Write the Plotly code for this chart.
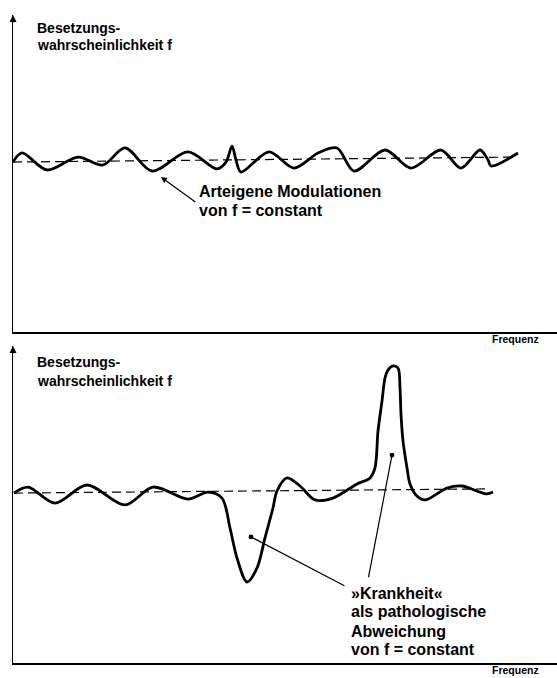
import plotly.graph_objects as go

# ---------------- data (frequency in arbitrary units 0..100, f relative to constant = 1) -------------
freq_top = [0.00, 1.65, 6.25, 11.95, 16.54, 20.59, 25.55, 32.17, 37.50, 39.15, 40.26, 40.99, 41.91,
            47.06, 51.65, 56.07, 59.56, 62.68, 68.38, 73.16, 78.68, 82.35, 85.85, 87.32, 87.87, 92.83]
f_top = [0.988, 1.041, 0.942, 1.017, 0.971, 1.070, 0.936, 1.047, 0.948, 0.988, 1.081, 1.000, 0.930,
         1.047, 0.953, 1.041, 1.070, 0.936, 1.058, 0.953, 1.058, 0.953, 1.058, 1.000, 0.965, 1.041]

freq_bottom = [0.18, 2.76, 7.72, 13.60, 20.59, 25.74, 32.17, 35.85, 38.42, 39.89, 41.18, 43.01, 44.85,
               46.32, 47.79, 48.53, 50.37, 52.76, 55.51, 58.82, 63.24, 65.63, 66.54, 67.10, 67.83,
               68.38, 68.93, 69.85, 70.77, 71.14, 71.32, 71.69, 72.43, 72.98, 74.26, 75.74, 79.78,
               82.54, 85.29, 87.13, 88.24]
f_bottom = [0.988, 1.023, 0.930, 1.035, 0.919, 1.023, 0.953, 0.994, 0.959, 0.785, 0.610, 0.471, 0.552,
            0.727, 0.901, 1.000, 1.076, 1.029, 0.948, 0.959, 1.041, 1.076, 1.134, 1.349, 1.523,
            1.657, 1.703, 1.727, 1.715, 1.599, 1.448, 1.291, 1.134, 1.041, 0.971, 0.948, 1.017,
            1.029, 1.000, 0.983, 0.994]

const_top_x = [0.0, 92.3]
const_top_f = [0.988, 1.017]
const_bottom_x = [0.18, 87.1]
const_bottom_f = [0.988, 1.012]

y_label_lines = ["Besetzungs-", "wahrscheinlichkeit f"]
x_label = "Frequenz"
top_note_lines = ["Arteigene Modulationen", "von f = constant"]
bottom_note_lines = ["»Krankheit«", "als pathologische", "Abweichung", "von f = constant"]

F_MAX = 1.843
X_MAX = 100.0

# ---------------- figure -------------
W, H = 557, 678
FONT = "Liberation Sans, Arial, Helvetica, sans-serif"

fig = go.Figure()

curve_style = dict(color="black", width=2.8, shape="spline", smoothing=0.9)
dash_style = dict(color="black", width=1.2, dash="9px,5px")

fig.add_trace(go.Scatter(x=const_top_x, y=const_top_f, mode="lines", line=dash_style,
                         xaxis="x", yaxis="y", hoverinfo="skip"))
fig.add_trace(go.Scatter(x=freq_top, y=f_top, mode="lines", line=curve_style,
                         xaxis="x", yaxis="y"))
fig.add_trace(go.Scatter(x=const_bottom_x, y=const_bottom_f, mode="lines", line=dash_style,
                         xaxis="x2", yaxis="y2", hoverinfo="skip"))
fig.add_trace(go.Scatter(x=freq_bottom, y=f_bottom, mode="lines", line=curve_style,
                         xaxis="x2", yaxis="y2"))

def px_y(py):
    return 1 - py / H

axis_common = dict(showgrid=False, zeroline=False, showticklabels=False, ticks="",
                   showline=True, linecolor="black", linewidth=1.5, fixedrange=True)

fig.update_layout(
    width=W, height=H,
    margin=dict(l=0, r=0, t=0, b=0),
    paper_bgcolor="white", plot_bgcolor="white",
    showlegend=False,
    xaxis=dict(domain=[13 / W, 1.0], range=[0, X_MAX], anchor="y", **axis_common),
    yaxis=dict(domain=[px_y(332), px_y(15)], range=[0, F_MAX], anchor="x", **axis_common),
    xaxis2=dict(domain=[13 / W, 1.0], range=[0, X_MAX], anchor="y2", **axis_common),
    yaxis2=dict(domain=[px_y(663), px_y(346)], range=[0, F_MAX], anchor="x2", **axis_common),
)

ann = []
# y-axis arrow tips
for xr, yr in (("x", "y"), ("x2", "y2")):
    ann.append(dict(x=0, y=F_MAX, xref=xr, yref=yr, text="", showarrow=True,
                    ax=0, ay=9, arrowhead=2, arrowsize=1, arrowwidth=1.4, arrowcolor="black"))

# y-axis labels
label_pos = {"y": [1.767, 1.669], "y2": [1.750, 1.640]}
for xr, yr in (("x", "y"), ("x2", "y2")):
    for line, yy in zip(y_label_lines, label_pos[yr]):
        ann.append(dict(x=4.0, y=yy, xref=xr, yref=yr, text="<b>%s</b>" % line, showarrow=False,
                        xanchor="left", yanchor="middle",
                        font=dict(family=FONT, size=14, color="black")))

# x-axis labels
for yy in (px_y(339), px_y(670)):
    ann.append(dict(x=541 / W, y=yy, xref="paper", yref="paper", text="<b>%s</b>" % x_label,
                    showarrow=False, xanchor="right", yanchor="middle",
                    font=dict(family=FONT, size=10.5, color="black")))

# top note
for line, yy in zip(top_note_lines, [0.814, 0.709]):
    ann.append(dict(x=33.8, y=yy, xref="x", yref="y", text="<b>%s</b>" % line, showarrow=False,
                    xanchor="left", yanchor="middle",
                    font=dict(family=FONT, size=16, color="black")))
ann.append(dict(x=27.2, y=0.901, xref="x", yref="y", ax=33.8, ay=0.750, axref="x", ayref="y",
                text="", showarrow=True, arrowhead=2, arrowsize=1, arrowwidth=1.2, arrowcolor="black"))

# bottom note
for line, yy in zip(bottom_note_lines, [0.407, 0.297, 0.186, 0.078]):
    ann.append(dict(x=61.8, y=yy, xref="x2", yref="y2", text="<b>%s</b>" % line, showarrow=False,
                    xanchor="left", yanchor="middle",
                    font=dict(family=FONT, size=16, color="black")))
ann.append(dict(x=43.75, y=0.733, xref="x2", yref="y2", ax=61.2, ay=0.445, axref="x2", ayref="y2",
                text="", showarrow=True, arrowhead=6, arrowsize=1, arrowwidth=1.2, arrowcolor="black"))
ann.append(dict(x=69.67, y=1.209, xref="x2", yref="y2", ax=65.3, ay=0.49, axref="x2", ayref="y2",
                text="", showarrow=True, arrowhead=6, arrowsize=1, arrowwidth=1.2, arrowcolor="black"))

fig.update_layout(annotations=ann)

fig.write_html("out.html", config={"displayModeBar": False, "staticPlot": True},
               post_script="document.body.style.margin='0px';")
